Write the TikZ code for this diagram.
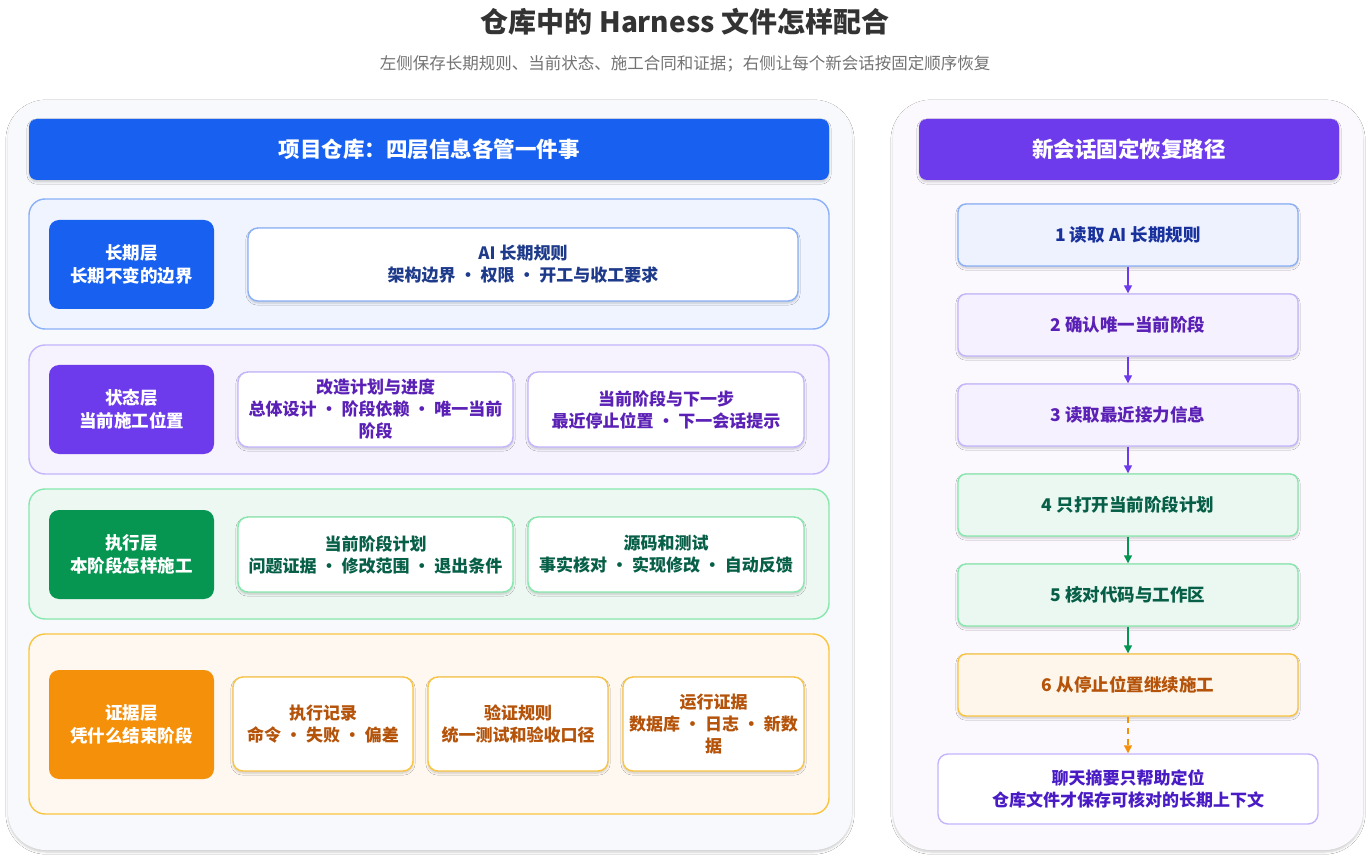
\documentclass[tikz,border=0pt]{standalone}
\usepackage{fontspec}
\setmainfont{Noto Sans CJK SC}
\usetikzlibrary{arrows.meta,shadows.blur}
\definecolor{blueA}{HTML}{1860F0}
\definecolor{purA}{HTML}{6D3BEB}
\definecolor{grnA}{HTML}{069652}
\definecolor{orgA}{HTML}{F5900A}
\definecolor{blueB}{HTML}{8AB0F8}
\definecolor{purB}{HTML}{C4B5FD}
\definecolor{grnB}{HTML}{86E8AC}
\definecolor{orgB}{HTML}{FBC440}
\definecolor{blueT}{HTML}{1E3A8A}
\definecolor{purT}{HTML}{5B21B6}
\definecolor{grnT}{HTML}{065F46}
\definecolor{orgT}{HTML}{B45309}
\definecolor{panL}{HTML}{F7F9FC}
\begin{document}
\begin{tikzpicture}[x=1pt,y=-1pt,
  box/.style={draw,rounded corners=#1,line width=1.4pt},
  sh/.style={blur shadow={shadow blur steps=6,shadow xshift=0pt,shadow yshift=-2pt,shadow opacity=20}},
  lbl/.style={font=\fontsize{17.5}{23}\selectfont\bfseries,text=white,align=center},
  txt/.style={font=\fontsize{17}{22}\selectfont\bfseries,align=center},
  arr/.style={-{Triangle[length=8pt,width=8pt]},line width=1.4pt}]
\useasboundingbox[fill=white] (0,0) rectangle (1371,858);
\node[font=\fontsize{28}{32}\selectfont\bfseries,text=black!80] (title) at (685,22) {仓库中的 Harness 文件怎样配合};
\node[font=\fontsize{16.5}{20}\selectfont,text=black!55] (sub) at (685,64) {左侧保存长期规则、当前状态、施工合同和证据；右侧让每个新会话按固定顺序恢复};
% left panel
\fill[sh,fill=panL,rounded corners=38] (8,100) rectangle (852,850);
\fill[sh,blueA,rounded corners=8] (29,119) rectangle (829,180);
\node[lbl,font=\fontsize{21.5}{26}\selectfont\bfseries] (lh) at (429,149) {项目仓库：四层信息各管一件事};
% layer 1
\draw[box=16,blueB,fill=blueA!7] (29,199) rectangle (829,329);
\fill[blueA,rounded corners=10] (49,220) rectangle (214,309);
\node[lbl] (l1) at (131.5,264.5) {长期层\\长期不变的边界};
\draw[box=10,sh,blueB,fill=white] (248,228) rectangle (798,301);
\node[txt,text=blueT] (c1) at (523,264.5) {AI 长期规则\\架构边界 · 权限 · 开工与收工要求};
% layer 2
\draw[box=16,purB,fill=purA!6] (29,345) rectangle (829,474);
\fill[purA,rounded corners=10] (49,365) rectangle (214,454);
\node[lbl] (l2) at (131.5,409.5) {状态层\\当前施工位置};
\draw[box=10,sh,purB,fill=white] (238,372) rectangle (513,447);
\node[txt,text=purT] (c21) at (375.5,409.5) {改造计划与进度\\总体设计 · 阶段依赖 · 唯一当前\\阶段};
\draw[box=10,sh,purB,fill=white] (528,372) rectangle (804,447);
\node[txt,text=purT] (c22) at (666,409.5) {当前阶段与下一步\\最近停止位置 · 下一会话提示};
% layer 3
\draw[box=16,grnB,fill=grnA!7] (29,489) rectangle (829,619);
\fill[grnA,rounded corners=10] (49,510) rectangle (214,599);
\node[lbl] (l3) at (131.5,554.5) {执行层\\本阶段怎样施工};
\draw[box=10,sh,grnB,fill=white] (238,517) rectangle (513,592);
\node[txt,text=grnT] (c31) at (375.5,554.5) {当前阶段计划\\问题证据 · 修改范围 · 退出条件};
\draw[box=10,sh,grnB,fill=white] (528,517) rectangle (804,592);
\node[txt,text=grnT] (c32) at (666,554.5) {源码和测试\\事实核对 · 实现修改 · 自动反馈};
% layer 4
\draw[box=16,orgB,fill=orgA!6] (29,634) rectangle (829,814);
\fill[orgA,rounded corners=10] (49,670) rectangle (214,779);
\node[lbl] (l4) at (131.5,724.5) {证据层\\凭什么结束阶段};
\draw[box=10,sh,orgB,fill=white] (233,677) rectangle (413,771);
\node[txt,text=orgT] (c41) at (323,724) {执行记录\\命令 · 失败 · 偏差};
\draw[box=10,sh,orgB,fill=white] (428,677) rectangle (608,771);
\node[txt,text=orgT] (c42) at (518,724) {验证规则\\统一测试和验收口径};
\draw[box=10,sh,orgB,fill=white] (623,677) rectangle (804,771);
\node[txt,text=orgT] (c43) at (713.5,724) {运行证据\\数据库 · 日志 · 新数\\据};
% right panel
\fill[sh,fill=purA!3,rounded corners=38] (893,100) rectangle (1363,850);
\fill[sh,purA,rounded corners=8] (919,119) rectangle (1339,180);
\node[lbl,font=\fontsize{21.5}{26}\selectfont\bfseries] (rh) at (1129,149) {新会话固定恢复路径};
\tikzset{step/.style n args={3}{draw=#1,fill=#2,text=#3,line width=1.4pt,rounded corners=8,minimum width=340pt,minimum height=62pt,sh,font=\fontsize{17.5}{21}\selectfont\bfseries}}
\node[step={blueB}{blueA!8}{blueT!85!blue}] (s1) at (1128,235) {1 读取 AI 长期规则};
\node[step={purB}{purA!7}{purT}] (s2) at (1128,325) {2 确认唯一当前阶段};
\node[step={purB}{purA!7}{purT}] (s3) at (1128,415) {3 读取最近接力信息};
\node[step={grnB}{grnA!8}{grnT}] (s4) at (1128,505) {4 只打开当前阶段计划};
\node[step={grnB}{grnA!8}{grnT}] (s5) at (1128,595) {5 核对代码与工作区};
\node[step={orgB}{orgA!8}{orgT}] (s6) at (1128,685) {6 从停止位置继续施工};
\node[draw=purB,fill=white,line width=1.4pt,rounded corners=10,minimum width=380pt,minimum height=70pt,txt,text=purT!80!blue] (fin) at (1128,789) {聊天摘要只帮助定位\\仓库文件才保存可核对的长期上下文};
\draw[arr,purA] (s1) -- (s2);
\draw[arr,purA] (s2) -- (s3);
\draw[arr,purA] (s3) -- (s4);
\draw[arr,grnA] (s4) -- (s5);
\draw[arr,grnA] (s5) -- (s6);
\draw[arr,orgA,dash pattern=on 6pt off 5pt] (s6) -- (fin);
\end{tikzpicture}
\end{document}
